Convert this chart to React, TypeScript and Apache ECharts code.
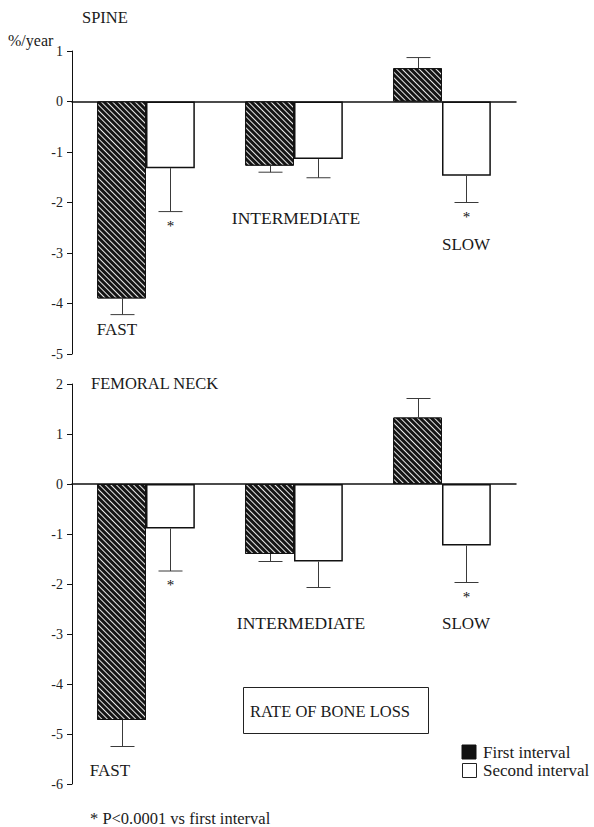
import React, { useEffect, useRef } from 'react';
import * as echarts from 'echarts';

// ---- data ----
const categories = ['FAST', 'INTERMEDIATE', 'SLOW'];
const seriesNames = ['First interval', 'Second interval'];

// Spine (%/year)
const spineFirst = [-3.9, -1.27, 0.66];
const spineFirstErrEnd = [-4.22, -1.4, 0.87];
const spineSecond = [-1.32, -1.14, -1.47];
const spineSecondErrEnd = [-2.18, -1.51, -2.0];

// Femoral neck (%/year)
const neckFirst = [-4.72, -1.4, 1.33];
const neckFirstErrEnd = [-5.25, -1.55, 1.71];
const neckSecond = [-0.89, -1.55, -1.23];
const neckSecondErrEnd = [-1.74, -2.07, -1.97];

// second interval significantly different from first (P<0.0001)
const significant = [true, false, true];

const spineAxis = { min: -5, max: 1, interval: 1 };
const neckAxis = { min: -6, max: 2, interval: 1 };

const FONT = '"Liberation Serif", "DejaVu Serif", serif';
const BAR_GAP_FRAC = 0.34; // barCategoryGap
const BAR_FRAC = (1 - BAR_GAP_FRAC) / 2;

export default function App() {
  const ref = useRef<HTMLDivElement>(null);

  useEffect(() => {
    document.body.style.margin = '0';
    if (!ref.current) return;
    const chart = echarts.init(ref.current, null, { renderer: 'svg' });

    const hatch = {
      symbol: 'rect',
      symbolSize: 1,
      color: 'rgba(255,255,255,0.9)',
      dashArrayX: [1, 0],
      dashArrayY: [1, 2.4],
      rotation: Math.PI / 4,
    };

    const errRender = (params: any, api: any) => {
      const cat = api.value(0);
      const val = api.value(1);
      const end = api.value(2);
      const side = api.value(3);
      const sig = api.value(4);
      const band = api.size([1, 0])[0];
      const off = (side * band * BAR_FRAC) / 2;
      const p0 = api.coord([cat, val]);
      const p1 = api.coord([cat, end]);
      const x = Math.round(p0[0] + off) + 0.5;
      const cap = 12;
      const style = { stroke: '#3a3a3a', lineWidth: 1 };
      const children: any[] = [
        { type: 'line', shape: { x1: x, y1: p0[1], x2: x, y2: p1[1] }, style },
        { type: 'line', shape: { x1: x - cap, y1: p1[1], x2: x + cap, y2: p1[1] }, style },
      ];
      if (sig) {
        children.push({
          type: 'text',
          x: x,
          y: p1[1] + 14,
          style: {
            text: '*',
            fill: '#111',
            font: '15px ' + FONT,
            align: 'center',
            verticalAlign: 'middle',
          },
        });
      }
      return { type: 'group', children };
    };

    const errData = (vals: number[], ends: number[], side: number, sigArr: boolean[] | null) =>
      vals.map((v, i) => [i, v, ends[i], side, sigArr && sigArr[i] ? 1 : 0]);

    const yAxisCommon = {
      type: 'value' as const,
      axisLine: { show: true, lineStyle: { color: '#111', width: 1 } },
      axisTick: { show: true, inside: false, length: 5, lineStyle: { color: '#111' } },
      splitLine: { show: false },
      axisLabel: { color: '#222', fontFamily: FONT, fontSize: 14, margin: 9 },
    };
    const xAxisCommon = {
      type: 'category' as const,
      data: categories,
      axisLine: { show: true, onZero: true, lineStyle: { color: '#111', width: 1.5 } },
      axisTick: { show: false },
      axisLabel: { show: false },
      splitLine: { show: false },
    };

    const firstStyle = { color: '#151515', borderColor: '#111', borderWidth: 1, decal: hatch };
    const secondStyle = { color: '#ffffff', borderColor: '#111', borderWidth: 1.5 };

    const textStyle = (text: string, x: number, y: number, size = 15, align = 'left') => ({
      type: 'text',
      x,
      y,
      style: { text, fill: '#1a1a1a', font: `${size}px ${FONT}`, align, verticalAlign: 'middle' },
    });

    const option: any = {
      animation: false,
      backgroundColor: '#ffffff',
      grid: [
        { left: 72, top: 51, width: 444, height: 303 },
        { left: 72, top: 384, width: 444, height: 400 },
      ],
      xAxis: [
        { ...xAxisCommon, gridIndex: 0 },
        { ...xAxisCommon, gridIndex: 1 },
      ],
      yAxis: [
        { ...yAxisCommon, gridIndex: 0, ...spineAxis },
        { ...yAxisCommon, gridIndex: 1, ...neckAxis },
      ],
      series: [
        {
          name: seriesNames[0], type: 'bar', xAxisIndex: 0, yAxisIndex: 0,
          data: spineFirst, barGap: '0%', barCategoryGap: '34%', itemStyle: firstStyle,
        },
        {
          name: seriesNames[1], type: 'bar', xAxisIndex: 0, yAxisIndex: 0,
          data: spineSecond, barGap: '0%', barCategoryGap: '34%', itemStyle: secondStyle,
        },
        {
          name: seriesNames[0], type: 'bar', xAxisIndex: 1, yAxisIndex: 1,
          data: neckFirst, barGap: '0%', barCategoryGap: '34%', itemStyle: firstStyle,
        },
        {
          name: seriesNames[1], type: 'bar', xAxisIndex: 1, yAxisIndex: 1,
          data: neckSecond, barGap: '0%', barCategoryGap: '34%', itemStyle: secondStyle,
        },
        {
          type: 'custom', xAxisIndex: 0, yAxisIndex: 0, renderItem: errRender, z: 5,
          data: [
            ...errData(spineFirst, spineFirstErrEnd, -1, null),
            ...errData(spineSecond, spineSecondErrEnd, 1, significant),
          ],
        },
        {
          type: 'custom', xAxisIndex: 1, yAxisIndex: 1, renderItem: errRender, z: 5,
          data: [
            ...errData(neckFirst, neckFirstErrEnd, -1, null),
            ...errData(neckSecond, neckSecondErrEnd, 1, significant),
          ],
        },
      ],
      graphic: [
        textStyle('SPINE', 82, 17, 16.5),
        textStyle('%/year', 8, 40, 16),
        textStyle(categories[0], 117, 329, 17, 'center'),
        textStyle(categories[1], 296, 218, 17.5, 'center'),
        textStyle(categories[2], 466, 244, 17, 'center'),
        textStyle('FEMORAL NECK', 91, 383, 16.5),
        textStyle(categories[0], 110, 770, 17, 'center'),
        textStyle(categories[1], 301, 623, 17.5, 'center'),
        textStyle(categories[2], 466, 623, 17, 'center'),
        {
          type: 'rect',
          shape: { x: 243.5, y: 687.5, width: 185, height: 46 },
          style: { fill: '#fff', stroke: '#222', lineWidth: 1 },
        },
        textStyle('RATE OF BONE LOSS', 330, 711, 16.5, 'center'),
        {
          type: 'rect',
          shape: { x: 462, y: 745, width: 14, height: 14 },
          style: { fill: '#111', stroke: '#111', lineWidth: 1 },
        },
        {
          type: 'rect',
          shape: { x: 462.5, y: 763.5, width: 14, height: 14 },
          style: { fill: '#fff', stroke: '#222', lineWidth: 1 },
        },
        textStyle(seriesNames[0], 483, 752, 17),
        textStyle(seriesNames[1], 483, 770, 17),
        textStyle('* P<0.0001 vs first interval', 90, 818, 16.5),
      ],
    };

    chart.setOption(option);
    return () => chart.dispose();
  }, []);

  return <div ref={ref} style={{ width: 594, height: 827 }} />;
}
